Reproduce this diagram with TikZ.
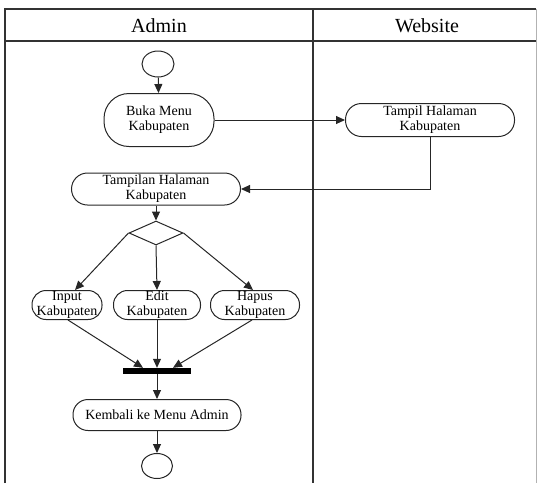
\documentclass[tikz,border=0pt]{standalone}
\usepackage{fontspec}
\setmainfont{Liberation Serif}
\usetikzlibrary{shapes.geometric,arrows.meta}
\tikzset{
  act/.style={draw=black!85, line width=1pt, rounded corners=#1, inner sep=0pt, align=center,
    font=\fontsize{14}{14.8}\selectfont},
  act/.default=15pt,
  flow/.style={draw=black!85, line width=1pt, -{Triangle[length=9pt,width=8pt]}},
  lane/.style={draw=black!80, line width=1.3pt},
  hdr/.style={font=\fontsize{20}{24}\selectfont, inner sep=0pt},
  circ/.style={draw=black!85, line width=1pt, ellipse, inner sep=0pt},
}
\begin{document}
\begin{tikzpicture}[x=1pt,y=-1pt]
\useasboundingbox (0,0) rectangle (539,483);
% swimlanes
\draw[lane] (5,483) -- (5,9) -- (536,9);
\draw[lane] (5,41) -- (536,41);
\draw[lane] (313,9) -- (313,483);
\draw[draw=black!30, line width=0.8pt] (536,9) -- (536,483);
\node[hdr] (hA) at (159,26) {Admin};
\node[hdr] (hW) at (427,26) {Website};
% nodes
\node[circ, minimum width=32pt, minimum height=26pt] (start) at (158,64) {};
\node[act=25pt, minimum width=110pt, minimum height=53pt] (buka) at (159,120) {Buka Menu\\Kabupaten};
\node[act=16pt, minimum width=169pt, minimum height=33pt] (tampil) at (430,120) {Tampil Halaman\\Kabupaten};
\node[act=16pt, minimum width=169pt, minimum height=32pt] (tampilan) at (156,189) {Tampilan Halaman\\Kabupaten};
\node[draw=black!85, line width=1pt, diamond, inner sep=0pt, minimum width=54pt, minimum height=24pt] (dec) at (156,233) {};
\node[act=14pt, minimum width=70pt, minimum height=29pt] (input) at (67,305) {Input\\Kabupaten};
\node[act=14pt, minimum width=87pt, minimum height=29pt] (edit) at (157,305) {Edit\\Kabupaten};
\node[act=14pt, minimum width=89pt, minimum height=29pt] (hapus) at (255,305) {Hapus\\Kabupaten};
\node[fill=black, inner sep=0pt, minimum width=68pt, minimum height=6pt] (bar) at (157,371) {};
\node[act=15pt, minimum width=168pt, minimum height=31pt] (kembali) at (157,415) {Kembali ke Menu Admin};
\node[circ, minimum width=31pt, minimum height=25pt] (end) at (157,466) {};
% connectors
\draw[flow] (start) -- (buka);
\draw[flow] (buka) -- (tampil);
\draw[flow] (tampil.south) |- (tampilan.east);
\draw[flow] (tampilan) -- (dec);
\draw[flow] (dec.west) -- ([xshift=8pt]input.north);
\draw[flow] (dec.south) -- (edit.north);
\draw[flow] (dec.east) -- ([xshift=-2pt]hapus.north);
\draw[flow] ([xshift=1pt]input.south) -- ([xshift=-14pt]bar.north);
\draw[flow] (edit.south) -- (bar.north);
\draw[flow] ([xshift=-3pt]hapus.south) -- ([xshift=16pt]bar.north);
\draw[flow] (bar) -- (kembali);
\draw[flow] (kembali) -- (end);
\end{tikzpicture}
\end{document}
